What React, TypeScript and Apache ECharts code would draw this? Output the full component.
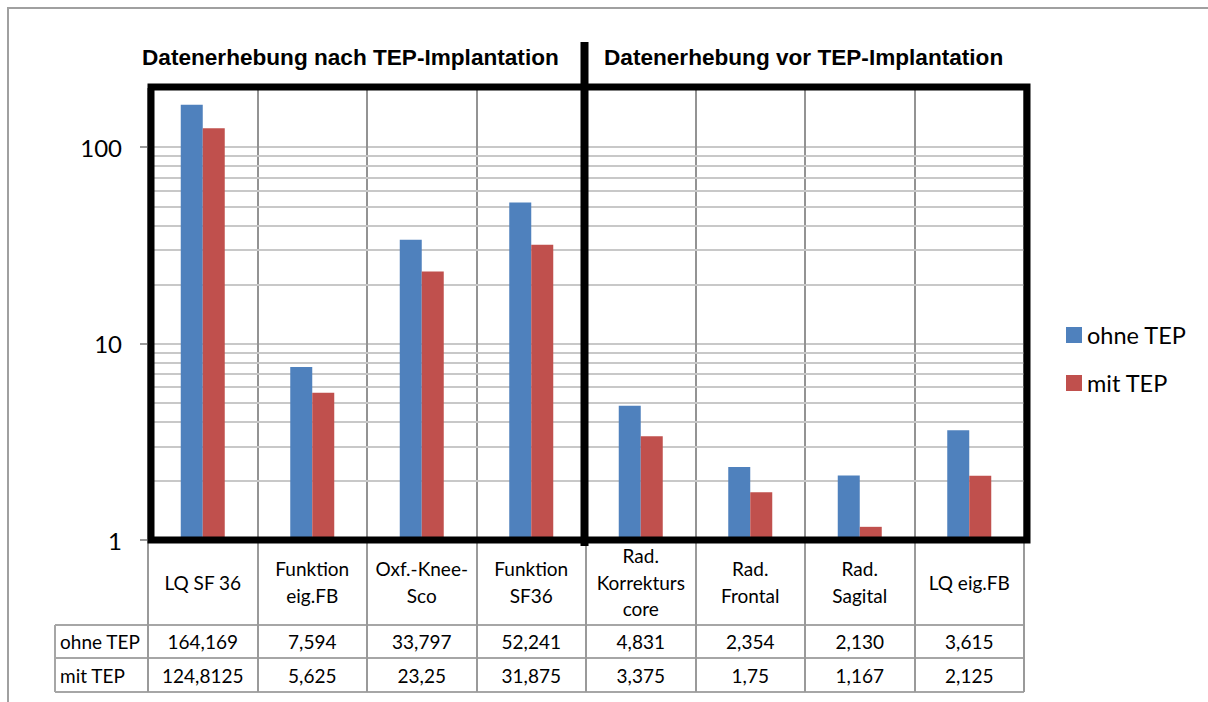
import React, { useEffect, useRef } from "react";
import * as echarts from "echarts";

// Categories (line breaks as they wrap in the table header)
const categories = [
  "LQ SF 36",
  "Funktion\neig.FB",
  "Oxf.-Knee-\nSco",
  "Funktion\nSF36",
  "Rad.\nKorrekturs\ncore",
  "Rad.\nFrontal",
  "Rad.\nSagital",
  "LQ eig.FB",
];
const seriesNames = ["ohne TEP", "mit TEP"];
// Values exactly as printed in the data table (German decimal comma)
const ohneTepText = ["164,169", "7,594", "33,797", "52,241", "4,831", "2,354", "2,130", "3,615"];
const mitTepText = ["124,8125", "5,625", "23,25", "31,875", "3,375", "1,75", "1,167", "2,125"];
const yTickLabels = [1, 10, 100];
const minorGridValues = [2, 3, 4, 5, 6, 7, 8, 9, 20, 30, 40, 50, 60, 70, 80, 90];
const sectionTitles = ["Datenerhebung nach TEP-Implantation", "Datenerhebung vor TEP-Implantation"];

const parseDe = (s: string) => parseFloat(s.replace(",", "."));
const ohneTep = ohneTepText.map(parseDe);
const mitTep = mitTepText.map(parseDe);

const COLORS = ["#4F81BD", "#C0504D"];
const BODY_FONT = "Lato";
const TITLE_FONT = "Liberation Sans";
const TABLE_LINE = "#a6a6a6";
const TABLE_FONT_SIZE = 19;

export default function App() {
  const ref = useRef<HTMLDivElement>(null);

  useEffect(() => {
    document.body.style.margin = "0";
    if (!ref.current) return;
    const chart = echarts.init(ref.current, null, { renderer: "svg" });

    const valueRowAxis = (labels: string[], margin: number) => ({
      type: "category",
      data: categories,
      position: "bottom",
      axisLine: { show: false },
      axisTick: { show: false },
      splitLine: { show: false },
      axisLabel: {
        interval: 0,
        margin,
        verticalAlign: "middle",
        fontSize: TABLE_FONT_SIZE,
        fontFamily: BODY_FONT,
        color: "#000",
        formatter: (_v: string, i: number) => labels[i],
      },
    });

    const titleStyle = { fontFamily: TITLE_FONT, fontWeight: "bold", fontSize: 22.6, color: "#000" };

    chart.setOption({
      animation: false,
      backgroundColor: "#fff",
      title: [
        { text: sectionTitles[0], left: 142, top: 46, padding: 0, textStyle: titleStyle },
        { text: sectionTitles[1], left: 604, top: 46, padding: 0, textStyle: titleStyle },
      ],
      legend: {
        data: seriesNames,
        orient: "vertical",
        left: 1066,
        top: 323,
        padding: 0,
        itemWidth: 16,
        itemHeight: 16,
        itemGap: 24,
        icon: "rect",
        textStyle: { fontFamily: BODY_FONT, fontSize: 23.5, color: "#000" },
      },
      grid: { left: 148, right: 184, top: 88, bottom: 162, containLabel: false },
      xAxis: [
        {
          type: "category",
          data: categories,
          position: "bottom",
          axisLine: { show: false },
          axisTick: { show: true, interval: 0, length: 152, lineStyle: { color: "#9a9a9a", width: 2 } },
          splitLine: { show: true, interval: 0, lineStyle: { color: "#939393", width: 2 } },
          axisLabel: {
            interval: 0,
            margin: 42,
            verticalAlign: "middle",
            fontSize: TABLE_FONT_SIZE,
            lineHeight: 26.5,
            fontFamily: BODY_FONT,
            color: "#000",
          },
        },
        valueRowAxis(ohneTepText, 101),
        valueRowAxis(mitTepText, 135),
      ],
      yAxis: {
        type: "log",
        logBase: 10,
        min: 1,
        max: 200,
        axisLine: { show: false },
        axisTick: {
          show: true,
          length: 8,
          customValues: yTickLabels,
          lineStyle: { color: "#9a9a9a", width: 2 },
        },
        axisLabel: {
          margin: 26,
          fontSize: 24,
          fontFamily: BODY_FONT,
          color: "#000",
          customValues: yTickLabels,
          formatter: (v: number) => {
            const t = yTickLabels.find((x) => Math.abs(x - v) < 1e-6);
            return t === undefined ? "" : String(t);
          },
        },
        splitLine: { show: true, lineStyle: { color: "#c8c8c8", width: 2 } },
      },
      series: [
        {
          name: seriesNames[0],
          type: "bar",
          data: ohneTep,
          barWidth: 22,
          barGap: "0%",
          itemStyle: { color: COLORS[0] },
          markLine: {
            silent: true,
            z: 1,
            symbol: ["none", "none"],
            label: { show: false },
            emphasis: { disabled: true },
            lineStyle: { color: "#c8c8c8", width: 2, type: "solid" },
            data: minorGridValues.map((v) => ({ yAxis: v })),
          },
        },
        {
          name: seriesNames[1],
          type: "bar",
          data: mitTep,
          barWidth: 22,
          barGap: "0%",
          itemStyle: { color: COLORS[1] },
        },
      ],
    });

    // Frame, section divider and data-table rules placed from the axes
    const xAt = (i: number) => chart.convertToPixel({ xAxisIndex: 0 }, i) as number;
    const yAt = (v: number) => chart.convertToPixel({ yAxisIndex: 0 }, v) as number;
    const half = (xAt(1) - xAt(0)) / 2;
    const left = xAt(0) - half;
    const right = xAt(categories.length - 1) + half;
    const yTop = yAt(200);
    const yBottom = yAt(1);
    const split = (xAt(3) + xAt(4)) / 2;
    const tableLeft = 55;
    const rowLines = [yBottom + 85, yBottom + 118, yBottom + 152];

    const hLine = (y: number) => ({
      type: "line",
      shape: { x1: tableLeft, y1: y, x2: right, y2: y },
      style: { stroke: TABLE_LINE, lineWidth: 2 },
      silent: true,
    });
    const rowText = (text: string, y: number) => ({
      type: "text",
      x: 60,
      y,
      style: {
        text,
        fill: "#000",
        fontSize: TABLE_FONT_SIZE,
        fontFamily: BODY_FONT,
        align: "left",
        verticalAlign: "middle",
      },
      silent: true,
    });

    chart.setOption({
      graphic: [
        {
          type: "rect",
          shape: { x: 8, y: 8, width: 1220, height: 710 },
          style: { fill: "none", stroke: "#a0a0a0", lineWidth: 2 },
          silent: true,
          z: 0,
        },
        ...rowLines.map(hLine),
        {
          type: "line",
          shape: { x1: tableLeft, y1: rowLines[0], x2: tableLeft, y2: rowLines[2] },
          style: { stroke: TABLE_LINE, lineWidth: 2 },
          silent: true,
        },
        rowText(seriesNames[0], (rowLines[0] + rowLines[1]) / 2),
        rowText(seriesNames[1], (rowLines[1] + rowLines[2]) / 2),
        {
          type: "rect",
          shape: { x: left + 3, y: yTop - 1, width: right - left, height: yBottom - yTop + 1 },
          style: { fill: "none", stroke: "#000", lineWidth: 7 },
          silent: true,
          z: 100,
        },
        {
          type: "line",
          shape: { x1: split - 1.5, y1: 42, x2: split - 1.5, y2: 546 },
          style: { stroke: "#000", lineWidth: 8 },
          silent: true,
          z: 101,
        },
      ],
    });

    return () => chart.dispose();
  }, []);

  return <div ref={ref} style={{ width: 1208, height: 702 }} />;
}
